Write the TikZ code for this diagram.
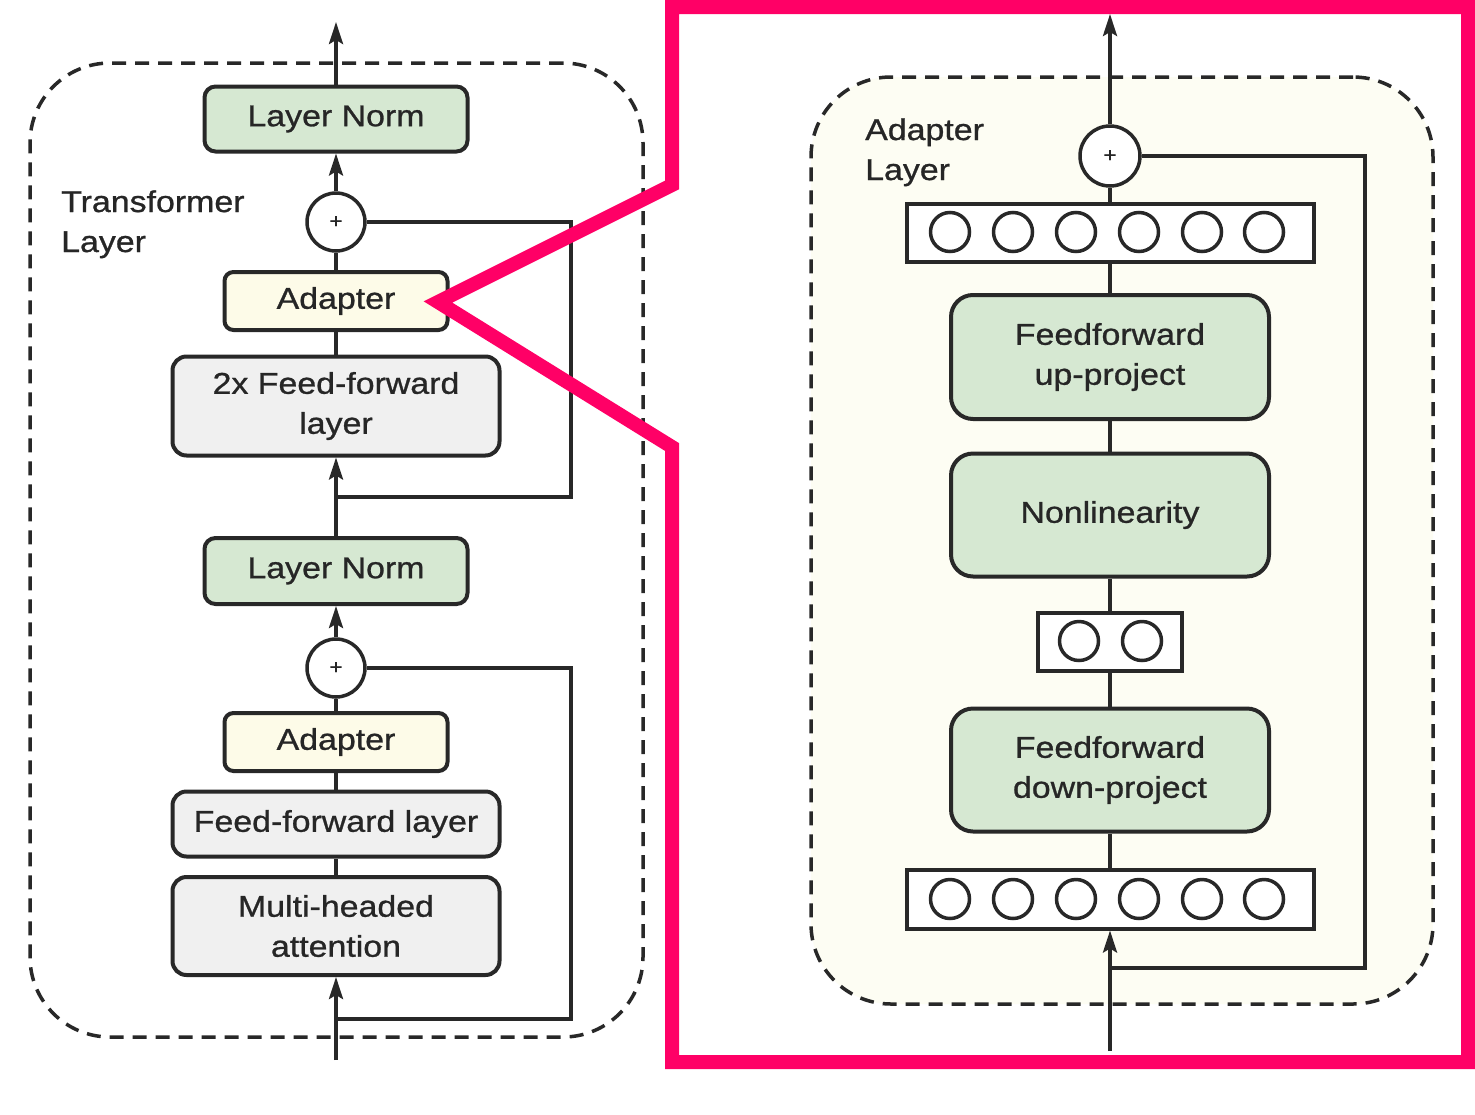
\documentclass[tikz,border=0pt]{standalone}
\usepackage{fontspec}
\setmainfont[FakeStretch=1.13,FakeBold=0.9]{Liberation Sans}
\usetikzlibrary{arrows.meta}
\definecolor{lngreen}{RGB}{214,232,210}
\definecolor{ffgray}{RGB}{240,240,240}
\definecolor{adcream}{RGB}{253,251,232}
\definecolor{panelcream}{RGB}{253,253,243}
\definecolor{linec}{RGB}{40,40,40}
\definecolor{txtc}{RGB}{38,38,38}
\definecolor{hotpink}{RGB}{255,0,102}
\begin{document}
\begin{tikzpicture}[x=1pt,y=-1pt,
  txt/.style={font=\fontsize{30}{40}\selectfont, text=txtc},
  boxbase/.style={draw=linec, line width=4pt, inner sep=0pt, align=center, txt},
  lnbox/.style={boxbase, rounded corners=11pt, fill=lngreen},
  adbox/.style={boxbase, rounded corners=9pt, fill=adcream},
  ffbox/.style={boxbase, rounded corners=14pt, fill=ffgray},
  projbox/.style={boxbase, rounded corners=22pt, fill=lngreen},
  barbox/.style={draw=linec, line width=4pt, fill=white, inner sep=0pt},
  neuron/.style={circle, draw=linec, line width=3.5pt, inner sep=0pt, minimum size=39pt},
  plusnode/.style={circle, draw=linec, line width=3.5pt, fill=white, inner sep=0pt,
    minimum size=58pt, font=\fontsize{20}{20}\selectfont, text=txtc},
  conn/.style={draw=linec, line width=3.5pt},
  arr/.style={conn, -{Stealth[length=22pt,width=14pt,inset=4pt]}},
  container/.style={draw=linec, line width=3.5pt, dash pattern=on 14pt off 9pt,
    rounded corners=80pt, inner sep=0pt}
]
\useasboundingbox (0,0) rectangle (1475,1114);
\fill[white] (0,0) rectangle (1475,1114);

% ---------- left panel: transformer layer ----------
\node[container, minimum width=613pt, minimum height=974pt] (tl) at (336.5,550) {};

\node[lnbox, minimum width=263pt, minimum height=65pt] (ln1) at (336,119) {Layer Norm};
\node[plusnode] (p1) at (336,222) {+};
\node[adbox, minimum width=223pt, minimum height=58pt] (ad1) at (336,301) {Adapter};
\node[ffbox, minimum width=327pt, minimum height=99pt] (ff2) at (336,406) {2x Feed-forward\\layer};
\node[lnbox, minimum width=263pt, minimum height=66pt] (ln2) at (336,571) {Layer Norm};
\node[plusnode] (p2) at (336,668) {+};
\node[adbox, minimum width=223pt, minimum height=58pt] (ad2) at (336,742) {Adapter};
\node[ffbox, minimum width=327pt, minimum height=65pt] (ff1) at (336,824) {Feed-forward layer};
\node[ffbox, minimum width=327pt, minimum height=98pt] (mha) at (336,926) {Multi-headed\\attention};

\node[txt, inner sep=0pt, anchor=base west] (tlab1) at (61,212) {Transformer};
\node[txt, inner sep=0pt, anchor=base west] (tlab2) at (61,252) {Layer};

\coordinate (outL) at (336,22);
\coordinate (inL) at (336,1060);
\coordinate (j1) at (336,497);
\coordinate (j2) at (336,1019);

\draw[arr] (ln1.north) -- (outL);
\draw[arr] (p1.north) -- (ln1.south);
\draw[conn] (ad1.north) -- (p1.south);
\draw[conn] (ff2.north) -- (ad1.south);
\draw[arr] (ln2.north) -- (ff2.south);
\draw[conn] (j1) -- ++(235,0) |- (p1.east);
\draw[arr] (p2.north) -- (ln2.south);
\draw[conn] (ad2.north) -- (p2.south);
\draw[conn] (ff1.north) -- (ad2.south);
\draw[conn] (mha.north) -- (ff1.south);
\draw[arr] (inL) -- (mha.south);
\draw[conn] (j2) -- ++(235,0) |- (p2.east);

% ---------- right panel: adapter layer ----------
\node[container, fill=panelcream, minimum width=622pt, minimum height=927pt] (al) at (1122,540.5) {};

\node[txt, inner sep=0pt, anchor=base west] (alab1) at (865,140) {Adapter};
\node[txt, inner sep=0pt, anchor=base west] (alab2) at (865,180) {Layer};

\node[plusnode, minimum size=60pt] (p3) at (1110,156) {+};
\node[barbox, minimum width=407pt, minimum height=58pt] (bar1) at (1110,232.5) {};
\foreach \i/\x in {1/950,2/1013,3/1076,4/1139,5/1202,6/1264}
  \node[neuron] (u\i) at (\x,232) {};
\node[projbox, minimum width=318pt, minimum height=124pt] (up) at (1110,357) {Feedforward\\up-project};
\node[projbox, minimum width=318pt, minimum height=123pt] (nl) at (1110,515) {Nonlinearity};
\node[barbox, minimum width=144pt, minimum height=58pt] (bar2) at (1110,642) {};
\foreach \i/\x in {1/1079,2/1142}
  \node[neuron] (m\i) at (\x,641) {};
\node[projbox, minimum width=318pt, minimum height=123pt] (down) at (1110,770) {Feedforward\\down-project};
\node[barbox, minimum width=407pt, minimum height=59pt] (bar3) at (1110,899) {};
\foreach \i/\x in {1/950,2/1013,3/1076,4/1139,5/1202,6/1264}
  \node[neuron] (d\i) at (\x,899) {};

\coordinate (outR) at (1110,14);
\coordinate (inR) at (1110,1051);
\coordinate (jR) at (1110,968);

\draw[arr] (p3.north) -- (outR);
\draw[conn] (bar1.north) -- (p3.south);
\draw[conn] (up.north) -- (bar1.south);
\draw[conn] (nl.north) -- (up.south);
\draw[conn] (bar2.north) -- (nl.south);
\draw[conn] (down.north) -- (bar2.south);
\draw[conn] (bar3.north) -- (down.south);
\draw[arr] (inR) -- (bar3.south);
\draw[conn] (jR) -- ++(255,0) |- (p3.east);

% ---------- pink zoom frame ----------
\coordinate (fTL) at (672,7);
\coordinate (fTR) at (1468,7);
\coordinate (fBR) at (1468,1062);
\coordinate (fBL) at (672,1062);
\coordinate (fN1) at (672,447);
\coordinate (fTip) at (438,302);
\coordinate (fN2) at (672,185);
\draw[hotpink, line width=14pt, line join=miter]
  (fTL) -- (fTR) -- (fBR) -- (fBL) -- (fN1) -- (fTip) -- (fN2) -- cycle;
\end{tikzpicture}
\end{document}
